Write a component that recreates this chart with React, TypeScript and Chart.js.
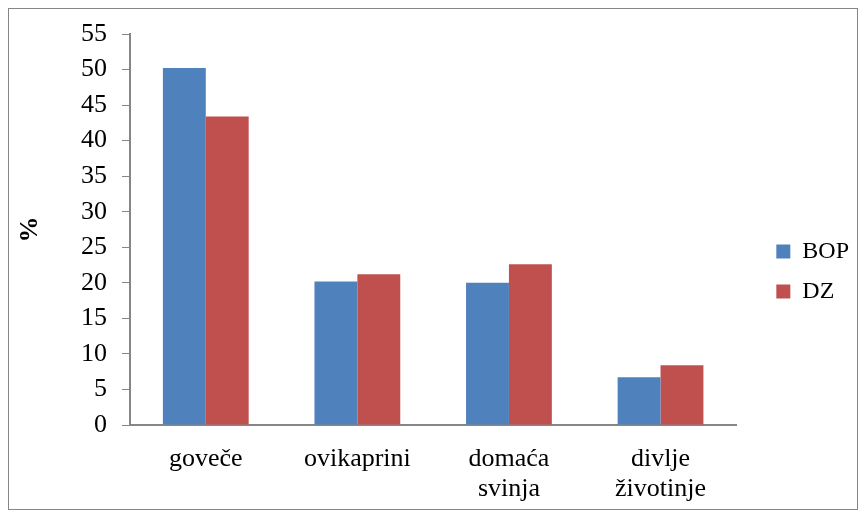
import React, { useEffect, useRef } from "react";
import { Chart, registerables } from "chart.js";

Chart.register(...registerables);

const categories: (string | string[])[] = ["goveče", "ovikaprini", ["domaća", "svinja"], ["divlje", "životinje"]];
const bopValues = [50.2, 20.2, 20.0, 6.7];
const dzValues = [43.4, 21.2, 22.6, 8.4];
const seriesNames = ["BOP", "DZ"];
const yTitle = "%";

const legendShift = {
  id: "legendShift",
  afterLayout(chart: any) {
    const lg = chart.legend;
    if (lg) {
      lg.left += 24;
      lg.right += 24;
    }
  },
};

export default function App() {
  const ref = useRef<HTMLCanvasElement | null>(null);
  useEffect(() => {
    if (!ref.current) return;
    const font = "'Liberation Serif', 'Times New Roman', serif";
    const chart = new Chart(ref.current, {
      type: "bar",
      data: {
        labels: categories,
        datasets: [
          { label: seriesNames[0], data: bopValues, backgroundColor: "#4F81BD", barPercentage: 1, categoryPercentage: 0.566 },
          { label: seriesNames[1], data: dzValues, backgroundColor: "#C0504D", barPercentage: 1, categoryPercentage: 0.566 },
        ],
      },
      plugins: [legendShift],
      options: {
        animation: false,
        responsive: true,
        maintainAspectRatio: false,
        layout: { autoPadding: false, padding: { top: 25, left: 0, right: 22, bottom: 0 } },
        plugins: {
          tooltip: { enabled: false },
          legend: {
            position: "right",
            labels: {
              boxWidth: 14,
              boxHeight: 14,
              padding: 16,
              color: "#000",
              font: { family: font, size: 24 },
            },
          },
        },
        scales: {
          x: {
            grid: { display: false },
            border: { display: true, color: "#868686", width: 2 },
            ticks: { color: "#000", font: { family: font, size: 26, lineHeight: 1.15 }, padding: 11, maxRotation: 0 },
            afterFit: (s: any) => { s.height = 84; },
          },
          y: {
            min: 0,
            max: 55,
            ticks: { stepSize: 5, color: "#000", font: { family: font, size: 26, lineHeight: 0.7 }, padding: 15 },
            grid: { drawOnChartArea: false, drawTicks: true, tickLength: 8, color: "#868686", lineWidth: 1 },
            border: { display: true, color: "#868686", width: 2 },
            title: { display: true, text: yTitle, color: "#000", font: { family: font, size: 26, weight: "bold" }, padding: { top: 6, bottom: 6 } },
            afterFit: (s: any) => { s.width = 121; },
          },
        },
      },
    });
    return () => chart.destroy();
  }, []);
  return (
    <div style={{ width: 850, height: 502, border: "1px solid #868686", boxSizing: "border-box", position: "relative" }}>
      <canvas ref={ref} />
    </div>
  );
}
